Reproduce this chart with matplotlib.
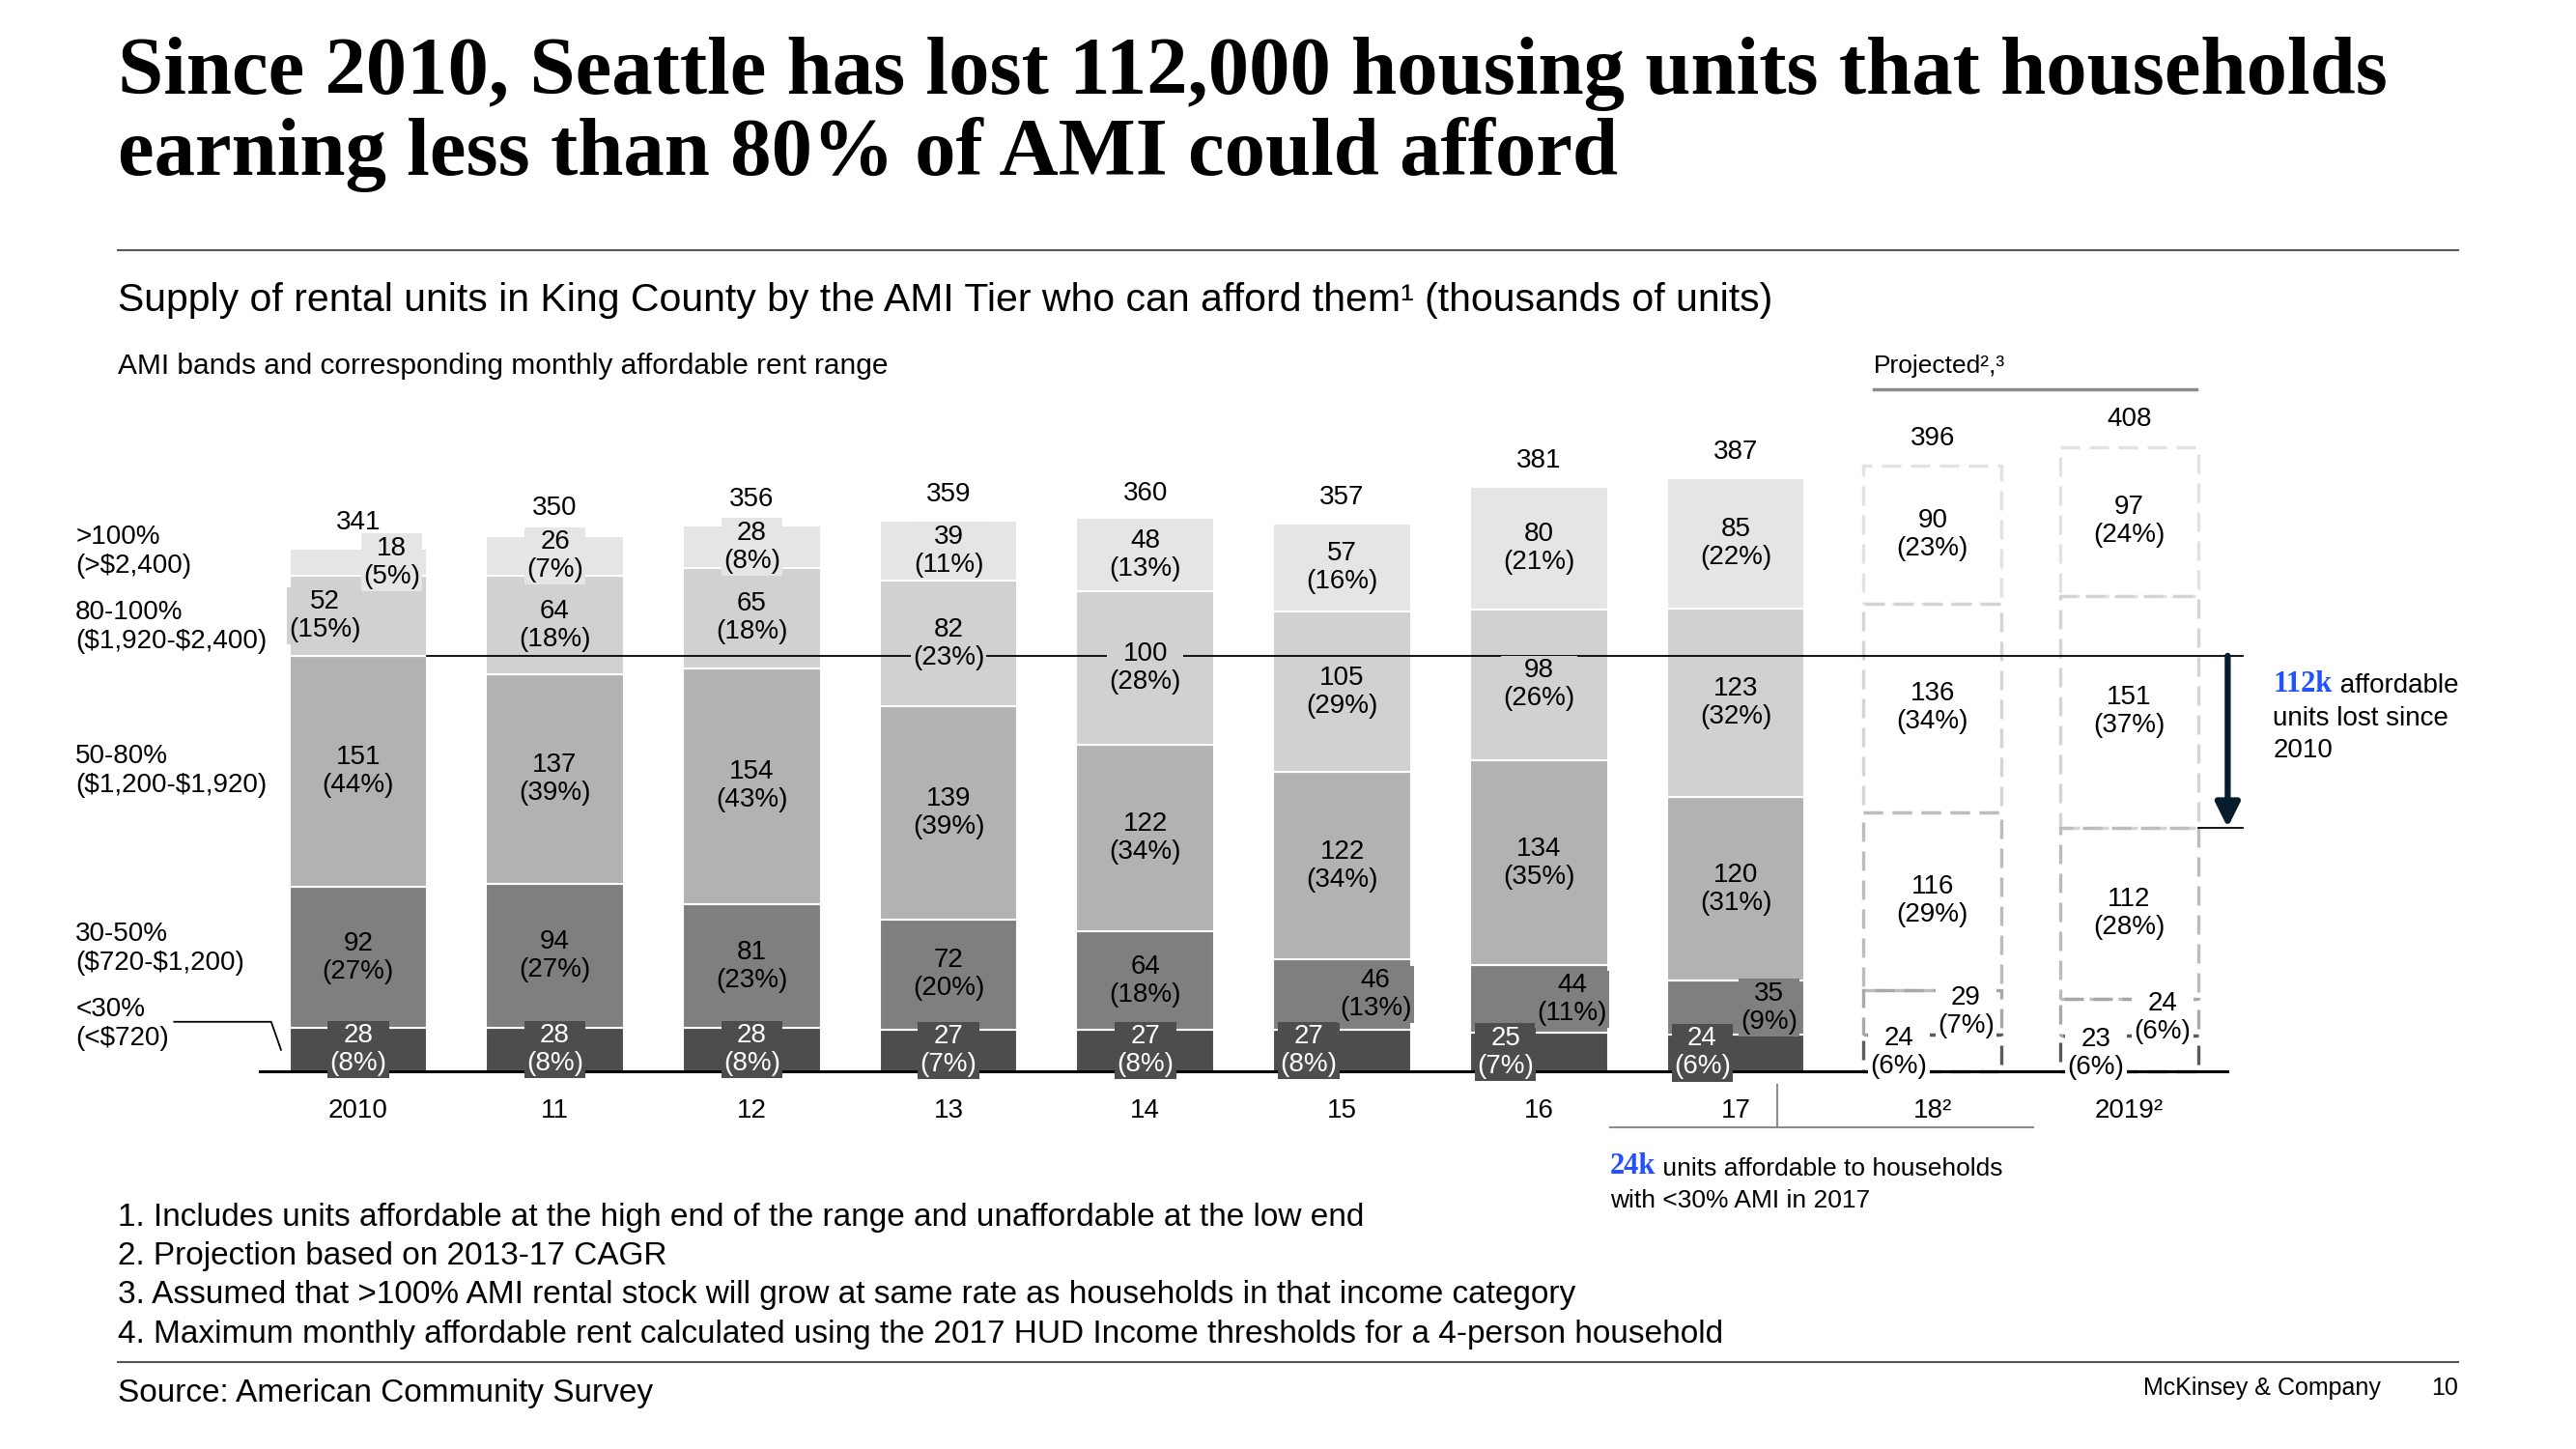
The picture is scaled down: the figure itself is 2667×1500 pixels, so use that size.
import matplotlib.pyplot as plt
from matplotlib.patches import Rectangle

# ---- data (thousands of units) ----
years = ['2010', '11', '12', '13', '14', '15', '16', '17', '18²', '2019²']
tier_names = ['<30%', '30-50%', '50-80%', '80-100%', '>100%']
tier_rents = ['(<$720)', '($720-$1,200)', '($1,200-$1,920)', '($1,920-$2,400)', '(>$2,400)']

lt30 = [28, 28, 28, 27, 27, 27, 25, 24, 24, 23]
ami30_50 = [92, 94, 81, 72, 64, 46, 44, 35, 29, 24]
ami50_80 = [151, 137, 154, 139, 122, 122, 134, 120, 116, 112]
ami80_100 = [52, 64, 65, 82, 100, 105, 98, 123, 136, 151]
gt100 = [18, 26, 28, 39, 48, 57, 80, 85, 90, 97]

pct_lt30 = [8, 8, 8, 7, 8, 8, 7, 6, 6, 6]
pct30_50 = [27, 27, 23, 20, 18, 13, 11, 9, 7, 6]
pct50_80 = [44, 39, 43, 39, 34, 34, 35, 31, 29, 28]
pct80_100 = [15, 18, 18, 23, 28, 29, 26, 32, 34, 37]
pct_gt100 = [5, 7, 8, 11, 13, 16, 21, 22, 23, 24]

totals = [341, 350, 356, 359, 360, 357, 381, 387, 396, 408]
n_actual = 8  # 2018 and 2019 are projections

values = [lt30, ami30_50, ami50_80, ami80_100, gt100]
pcts = [pct_lt30, pct30_50, pct50_80, pct80_100, pct_gt100]

# ---- style ----
SANS = 'Liberation Sans'
SERIF = 'Liberation Serif'
BLUE = '#2251ff'
NAVY = '#051c2c'
fills = ['#4d4d4d', '#7f7f7f', '#b2b2b2', '#d1d1d1', '#e5e5e5']
dash_cols = ['#5a5a5a', '#a8a8a8', '#bcbcbc', '#d4d4d4', '#e2e2e2']
plt.rcParams['font.family'] = SANS
plt.rcParams['text.parse_math'] = False  # dollar signs are literal

# label shifts (year index, tier index) -> left/right
shift = {(0, 4): 1, (0, 3): -1}
for i in range(5, 10):
    shift[(i, 1)] = 1
    shift[(i, 0)] = -1
dx = 0.17
label_y = [31, 80, 196, 290, 339]

fig = plt.figure(figsize=(26.67, 15), dpi=100)
ax = fig.add_axes([0, 0, 1, 1])
ax.set_xlim(-1.82, 11.27)
ax.set_ylim(-246.5, 698.8)
ax.axis('off')

W = 0.7
bottoms = [0] * len(years)
for t in range(5):
    for i in range(len(years)):
        v = values[t][i]
        b = bottoms[i]
        if i < n_actual:
            ax.bar(i, v, W, bottom=b, color=fills[t], edgecolor='white',
                   linewidth=1.5, zorder=2)
            bg, tc = fills[t], ('white' if t == 0 else 'black')
        else:
            ax.add_patch(Rectangle((i - W / 2, b), W, v, fill=False,
                                   edgecolor=dash_cols[t], linewidth=2.4,
                                   linestyle=(0, (6, 3)), zorder=3 + (5 - t) * 0.1))
            bg, tc = 'white', 'black'
        x = i + dx * shift.get((i, t), 0)
        ax.text(x, b + v / 2, f'{v}\n({pcts[t][i]}%)', ha='center', va='center',
                fontsize=20, color=tc, linespacing=1.15, zorder=6,
                bbox=dict(boxstyle='square,pad=0.08', fc=bg, ec='none'))
    bottoms = [bottoms[i] + values[t][i] for i in range(len(years))]

for i, tot in enumerate(totals):
    ax.text(i, tot + 17, str(tot), ha='center', va='center', fontsize=20)
    ax.text(i, -26, years[i], ha='center', va='center', fontsize=20)

# baseline
ax.plot([-0.5, 9.5], [0, 0], color='black', lw=2.2, zorder=4)

# 2010 level of <80% AMI units and the drop to 2019
lvl2010 = lt30[0] + ami30_50[0] + ami50_80[0]
lvl2019 = lt30[-1] + ami30_50[-1] + ami50_80[-1]
ax.plot([0.35, 9.575], [lvl2010, lvl2010], color='black', lw=1.3, zorder=4)
ax.plot([9.35, 9.575], [lvl2019, lvl2019], color='black', lw=1.3, zorder=4)
ax.annotate('', xy=(9.5, lvl2019), xytext=(9.5, lvl2010),
            arrowprops=dict(arrowstyle='-|>', lw=4.5, color=NAVY,
                            mutation_scale=38, shrinkA=0, shrinkB=0), zorder=5)
t1 = ax.text(9.73, 243, '112k', color=BLUE, fontsize=22, family=SERIF,
             fontweight='bold', va='bottom', ha='left')
ax.annotate(' affordable', xy=(1, 0), xycoords=t1, va='bottom', ha='left', fontsize=20)
ax.text(9.73, 238, 'units lost since\n2010', va='top', ha='left', fontsize=20,
        linespacing=1.35)

# left tier labels
for t in range(5):
    ax.text(-1.436, label_y[t], f'{tier_names[t]}\n{tier_rents[t]}', ha='left',
            va='center', fontsize=20, linespacing=1.2)
ax.plot([-0.935, -0.442, -0.392], [32.2, 32.2, 13.9], color='black', lw=1.3)

# 24k bracket + note
ax.plot([7.21, 7.21], [-8.6, -36.4], color='#8c8c8c', lw=1.5)
ax.plot([6.36, 8.51], [-36.4, -36.4], color='#8c8c8c', lw=1.5)
t2 = ax.text(6.36, -71, '24k', color=BLUE, fontsize=22, family=SERIF,
             fontweight='bold', va='bottom', ha='left')
ax.annotate(' units affordable to households', xy=(1, 0), xycoords=t2,
            va='bottom', ha='left', fontsize=19)
ax.text(6.36, -84.5, 'with <30% AMI in 2017', va='center', ha='left', fontsize=19)

# projected header
ax.text(7.70, 459.8, 'Projected²,³', ha='left', va='center', fontsize=19)
ax.plot([7.70, 9.34], [444.8, 444.8], color='#8c8c8c', lw=2.5)

# ---- page text ----
def fx(sx):
    return sx / 1568


def fy(sy):
    return 1 - sy / 882


fig.text(fx(72), fy(45), 'Since 2010, Seattle has lost 112,000 housing units that households',
         family=SERIF, fontweight='bold', fontsize=61, va='center', ha='left')
fig.text(fx(72), fy(94), 'earning less than 80% of AMI could afford',
         family=SERIF, fontweight='bold', fontsize=61, va='center', ha='left')
fig.add_artist(plt.Line2D([fx(72), fx(1496)], [fy(152), fy(152)], color='#555555', lw=1.5))
fig.text(fx(72), fy(183), 'Supply of rental units in King County by the AMI Tier who can afford them¹ (thousands of units)',
         fontsize=29.5, va='center', ha='left')
fig.text(fx(72), fy(223), 'AMI bands and corresponding monthly affordable rent range',
         fontsize=21.5, va='center', ha='left')

notes = ['1. Includes units affordable at the high end of the range and unaffordable at the low end',
         '2. Projection based on 2013-17 CAGR',
         '3. Assumed that >100% AMI rental stock will grow at same rate as households in that income category',
         '4. Maximum monthly affordable rent calculated using the 2017 HUD Income thresholds for a 4-person household']
for k, note in enumerate(notes):
    fig.text(fx(72), fy(741 + 23.7 * k), note, fontsize=24, va='center', ha='left')
fig.add_artist(plt.Line2D([fx(72), fx(1496)], [fy(829), fy(829)], color='#555555', lw=1.5))
fig.text(fx(72), fy(848), 'Source: American Community Survey', fontsize=24, va='center', ha='left')
fig.text(fx(1449), fy(845), 'McKinsey & Company', fontsize=18, va='center', ha='right')
fig.text(fx(1496), fy(845), '10', fontsize=18, va='center', ha='right')

fig.savefig('out.png', dpi=100)
